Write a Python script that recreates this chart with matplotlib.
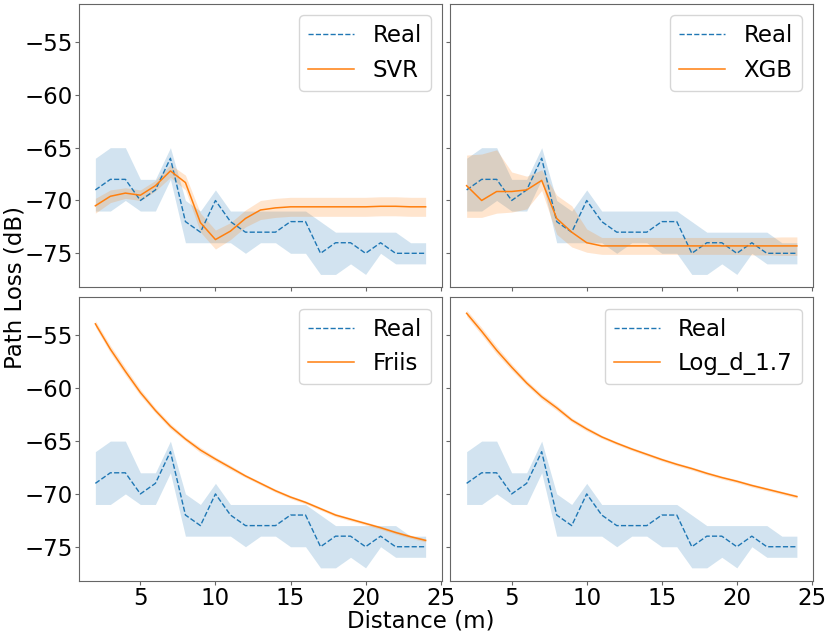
import matplotlib
matplotlib.use('Agg')
from matplotlib import pyplot as plt
import numpy as np

# distance (m)
dist = list(range(2, 25))

# measured path loss (dB) and its spread
real_mean = [-69, -68, -68, -70, -69, -66, -72, -73, -70, -72, -73, -73,
             -73, -72, -72, -75, -74, -74, -75, -74, -75, -75, -75]
real_upper = [-66, -65, -65, -68, -68, -65, -70, -71, -69, -71, -71, -71,
              -71, -71, -71, -72, -73, -73, -73, -73, -73, -74, -74]
real_lower = [-71, -71, -70, -71, -71, -68, -74, -74, -74, -74, -75, -74,
              -74, -75, -75, -77, -77, -76, -77, -75, -76, -76, -76]

# SVR prediction
svr_mean = [-70.5, -69.6, -69.3, -69.5, -68.6, -67.2, -68.3, -72.1, -73.7,
            -72.9, -71.7, -70.9, -70.7, -70.6, -70.6, -70.6, -70.6, -70.6,
            -70.6, -70.55, -70.55, -70.6, -70.6]
svr_upper = [-69.8, -69.0, -68.8, -69.0, -68.1, -66.6, -67.6, -71.2, -72.8,
             -72.1, -70.9, -70.0, -69.8, -69.7, -69.7, -69.7, -69.7, -69.7,
             -69.7, -69.65, -69.65, -69.7, -69.7]
svr_lower = [-71.2, -70.2, -69.8, -70.0, -69.1, -67.8, -69.0, -73.0, -74.6,
             -73.7, -72.5, -71.8, -71.6, -71.5, -71.5, -71.5, -71.5, -71.5,
             -71.5, -71.45, -71.45, -71.5, -71.5]

# XGB prediction
xgb_mean = [-68.6, -70.0, -69.15, -69.15, -69.0, -68.1, -71.7, -73.0, -74.0,
            -74.3, -74.3, -74.3, -74.3, -74.3, -74.3, -74.3, -74.3, -74.3,
            -74.3, -74.3, -74.3, -74.3, -74.3]
xgb_upper = [-65.7, -65.6, -65.2, -67.3, -67.7, -67.1, -69.5, -70.5, -72.7,
             -73.5, -73.5, -73.5, -73.5, -73.5, -73.5, -73.5, -73.5, -73.5,
             -73.5, -73.5, -73.5, -73.45, -73.45]
xgb_lower = [-71.6, -71.6, -71.2, -71.1, -70.8, -69.05, -73.2, -74.4, -74.9,
             -75.1, -75.1, -75.1, -75.1, -75.1, -75.1, -75.1, -75.1, -75.1,
             -75.1, -75.15, -75.15, -75.2, -75.2]

# Friis model
friis_mean = [-53.9, -56.3, -58.4, -60.4, -62.1, -63.6, -64.8, -65.85, -66.7,
              -67.5, -68.3, -69.0, -69.7, -70.3, -70.8, -71.4, -72.0, -72.4,
              -72.8, -73.2, -73.65, -74.05, -74.4]
friis_half = [0.3, 0.35, 0.35, 0.3, 0.25, 0.25, 0.2, 0.25, 0.2, 0.2, 0.15,
              0.15, 0.15, 0.15, 0.15, 0.15, 0.15, 0.15, 0.15, 0.15, 0.15,
              0.15, 0.15]

# log-distance model, exponent 1.7
logd_mean = [-52.9, -54.6, -56.4, -58.0, -59.5, -60.8, -61.85, -63.0, -63.85,
             -64.6, -65.2, -65.75, -66.25, -66.75, -67.2, -67.6, -68.05, -68.45,
             -68.8, -69.2, -69.55, -69.9, -70.25]
logd_half = [0.3, 0.35, 0.35, 0.3, 0.25, 0.25, 0.25, 0.2, 0.2, 0.15, 0.15,
             0.15, 0.15, 0.15, 0.15, 0.15, 0.15, 0.15, 0.15, 0.15, 0.15,
             0.15, 0.15]

model_names = ['SVR', 'XGB', 'Friis', 'Log_d_1.7']
fs = 16.5

plt.rcParams['font.size'] = fs
plt.rcParams['axes.edgecolor'] = '0.4'
plt.rcParams['xtick.color'] = '0.4'
plt.rcParams['ytick.color'] = '0.4'
plt.rcParams['xtick.labelcolor'] = 'black'
plt.rcParams['ytick.labelcolor'] = 'black'

fig, axes = plt.subplots(2, 2, sharex=True, sharey=True, figsize=(8.3, 6.34), dpi=100)
fig.subplots_adjust(left=0.095, right=0.98, top=0.994, bottom=0.084,
                    wspace=0.022, hspace=0.035)

fm, fl = np.array(friis_mean), np.array(friis_half)
lm, ll = np.array(logd_mean), np.array(logd_half)
models = [
    (svr_mean, svr_lower, svr_upper),
    (xgb_mean, xgb_lower, xgb_upper),
    (friis_mean, fm - fl, fm + fl),
    (logd_mean, lm - ll, lm + ll),
]

for ax, name, (m, lo, hi) in zip(axes.flat, model_names, models):
    ax.fill_between(dist, real_lower, real_upper, color='C0', alpha=0.2, lw=0)
    ax.plot(dist, real_mean, '--', color='C0', lw=1, label='Real')
    ax.fill_between(dist, lo, hi, color='C1', alpha=0.2, lw=0)
    ax.plot(dist, m, '-', color='C1', lw=1.1, label=name)
    ax.legend(loc='upper right', fontsize=fs)
    ax.tick_params(labelsize=fs, length=3, pad=1.5)

axes[0, 0].set_yticks([-55, -60, -65, -70, -75])
axes[1, 0].set_xticks([5, 10, 15, 20, 25])

fig.text(0.507, 0.0105, 'Distance (m)', ha='center', va='baseline', fontsize=fs)
fig.text(0.018, 0.547, 'Path Loss (dB)', ha='center', va='center', rotation=90, fontsize=fs)

fig.savefig('out.png', dpi=100)
